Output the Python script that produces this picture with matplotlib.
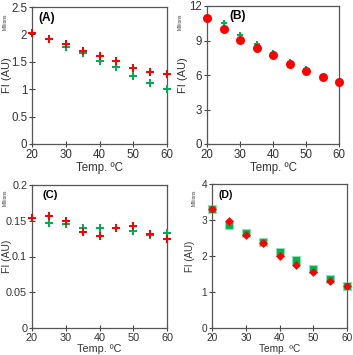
import matplotlib
matplotlib.use("Agg")
import matplotlib.pyplot as plt

plt.rcParams['font.family'] = ['Liberation Sans', 'DejaVu Sans']

temps = [20, 25, 30, 35, 40, 45, 50, 55, 60]

a_red = [2.02, 1.92, 1.82, 1.69, 1.61, 1.52, 1.39, 1.32, 1.28]
a_green = [2.02, 1.92, 1.77, 1.66, 1.51, 1.41, 1.24, 1.12, 1.00]

b_red = [11.0, 9.97, 9.07, 8.35, 7.75, 6.94, 6.39, 5.84, 5.40]
b_green = [11.0, 10.49, 9.50, 8.67, 7.90, 7.10, 6.53, 5.84, 5.40]

c_red = [0.1535, 0.156, 0.1498, 0.1349, 0.1293, 0.1405, 0.1428, 0.1312, 0.1242]
c_green = [0.1535, 0.147, 0.1451, 0.1405, 0.1405, 0.1395, 0.1363, 0.1298, 0.133]

d_green = [3.31, 2.85, 2.65, 2.38, 2.10, 1.88, 1.64, 1.36, 1.18]
d_red = [3.31, 2.97, 2.58, 2.36, 2.01, 1.76, 1.56, 1.31, 1.16]

RED = '#ff0000'
GREEN = '#00b050'

fig = plt.figure(figsize=(3.53, 3.55), dpi=100)
W, H = 353, 355

def make_ax(l, t, r, b):
    return fig.add_axes([l / W, 1 - b / H, (r - l) / W, (b - t) / H])

panels = [
    dict(box=(32, 7, 167, 144), ylim=(0, 2.5), yticks=[0, 0.5, 1, 1.5, 2, 2.5],
         ylabels=['0', '0.5', '1', '1.5', '2', '2.5'], label='(A)', fs=8.3,
         ylab_x=6.5, mill=(5, 22), lab=(0.045, 0.965)),
    dict(box=(207, 6, 339, 144), ylim=(0, 12), yticks=[0, 3, 6, 9, 12],
         ylabels=['0', '3', '6', '9', '12'], label='(B)', fs=8.3,
         ylab_x=183, mill=(180, 22), lab=(0.17, 0.97)),
    dict(box=(32, 185, 167, 328), ylim=(0, 0.2), yticks=[0, 0.05, 0.1, 0.15, 0.2],
         ylabels=['0', '0.05', '0.1', '0.15', '0.2'], label='(C)', fs=7.8,
         ylab_x=7, mill=(5, 198), lab=(0.08, 0.965)),
    dict(box=(212, 184, 347, 328), ylim=(0, 4), yticks=[0, 1, 2, 3, 4],
         ylabels=['0', '1', '2', '3', '4'], label='(D)', fs=7.3,
         ylab_x=190, mill=(194, 198), lab=(0.045, 0.96)),
]

axes = []
for p in panels:
    ax = make_ax(*p['box'])
    ax.set_xlim(20, 60)
    ax.set_ylim(*p['ylim'])
    ax.set_xticks([20, 30, 40, 50, 60])
    ax.set_yticks(p['yticks'])
    ax.set_yticklabels(p['ylabels'])
    ax.tick_params(direction='inout', length=4, width=0.8, labelsize=p['fs'],
                   colors='#444444', pad=1.5, labelcolor='#333333')
    for s in ax.spines.values():
        s.set_color('#555555')
        s.set_linewidth(0.9)
    ax.set_xlabel('Temp. \u00baC', fontsize=p['fs'], labelpad=1, color='#333333')
    ax.text(p['lab'][0], p['lab'][1], p['label'], transform=ax.transAxes,
            fontsize=p['fs'] + 0.3, fontweight='bold', va='top', ha='left')
    fig.text(p['ylab_x'] / W, 1 - ((p['box'][1] + p['box'][3]) / 2) / H, 'FI (AU)',
             rotation=90, ha='center', va='center', fontsize=p['fs'] - 0.3, color='#333333')
    fig.text(p['mill'][0] / W, 1 - p['mill'][1] / H, 'Millions', rotation=90,
             ha='center', va='center', fontsize=3.5, color='#333333')
    axes.append(ax)

axA, axB, axC, axD = axes
axA.scatter(temps, a_green, marker='P', s=28, color=GREEN, linewidths=0, zorder=3, clip_on=False)
axA.scatter(temps, a_red, marker='P', s=28, color=RED, linewidths=0, zorder=4, clip_on=False)

axB.scatter(temps, b_green, marker='P', s=20, color=GREEN, linewidths=0, zorder=3, clip_on=False)
axB.scatter(temps, b_red, marker='o', s=42, color=RED, linewidths=0, zorder=4, clip_on=False)

axC.scatter(temps, c_green, marker='P', s=28, color=GREEN, linewidths=0, zorder=3, clip_on=False)
axC.scatter(temps, c_red, marker='P', s=28, color=RED, linewidths=0, zorder=4, clip_on=False)

axD.scatter(temps, d_green, marker='s', s=38, color=GREEN, edgecolors='#8fe0b0',
            linewidths=0.8, zorder=3, clip_on=False)
axD.scatter(temps, d_red, marker='D', s=20, color=RED, linewidths=0, zorder=4, clip_on=False)

fig.savefig('out.png', dpi=100)
